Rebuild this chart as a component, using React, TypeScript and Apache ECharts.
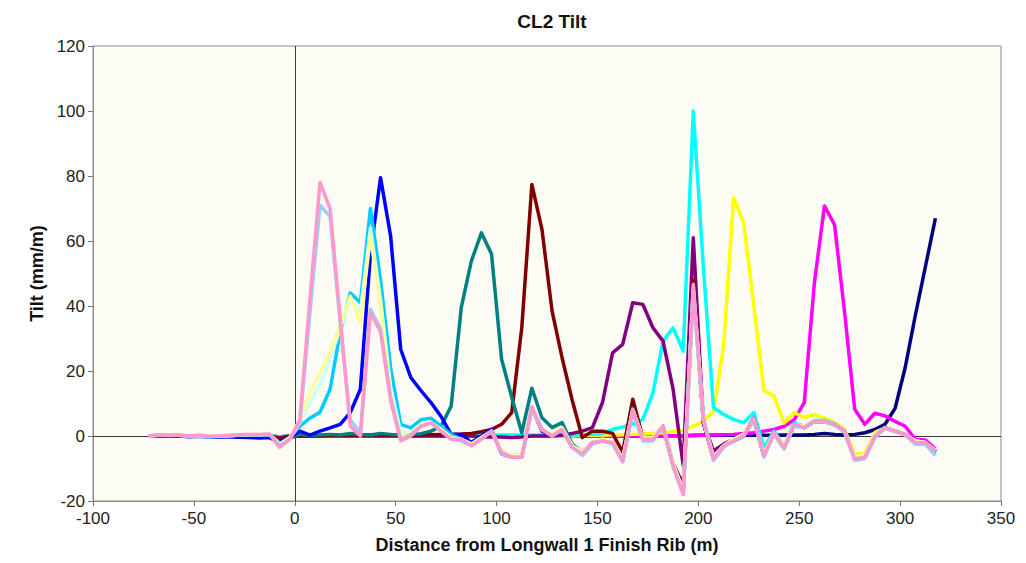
import React, { useEffect, useRef } from "react";
import * as echarts from "echarts";

const TITLE = "CL2 Tilt";
const X_NAME = "Distance from Longwall 1 Finish Rib (m)";
const Y_NAME = "Tilt (mm/m)";

const DIST = [
  -72.5, -67.5, -62.5, -57.5, -52.5, -47.5, -42.5, -37.5, -32.5, -27.5, -22.5, -17.5, -12.5, -7.5, -2.5,
  2.5, 7.5, 12.5, 17.5, 22.5, 27.5, 32.5, 37.5, 42.5, 47.5,
  52.5, 57.5, 62.5, 67.5, 72.5, 77.5, 82.5, 87.5, 92.5, 97.5,
  102.5, 107.5, 112.5, 117.5, 122.5, 127.5, 132.5, 137.5, 142.5, 147.5,
  152.5, 157.5, 162.5, 167.5, 172.5, 177.5, 182.5, 187.5, 192.5, 197.5,
  202.5, 207.5, 212.5, 217.5, 222.5, 227.5, 232.5, 237.5, 242.5, 247.5,
  252.5, 257.5, 262.5, 267.5, 272.5, 277.5, 282.5, 287.5, 292.5, 297.5,
  302.5, 307.5, 312.5, 317.5,
];

const NAVY = [
  0, 0, 0, 0, 0, 0, 0, 0, 0, 0, 0, 0, 0, -0.3, 0,
  0, 0, 0, 0, 0, 0, 0, 0, 0, 0,
  0, 0, 0, 0, 0, 0, 0, 0, 0, 0,
  0, 0, 0, 0, 0, 0, 0, 0, 0, 0,
  0, 0, 0, 0, 0, 0, 0.1, 0.1, 0.1, 0.2,
  0.2, 0.2, 0.2, 0.2, 0.2, 0.2, 0.2, 0.2, 0.3, 0.3,
  0.3, 0.5, 0.8, 0.5, 0.3, 0.5, 1, 2, 3.6, 8.5,
  21, 37, 52, 67,
];

const MAGENTA = [
  0, 0, 0, 0, 0, 0, 0, 0, 0, 0, 0, 0, 0, -0.3, 0,
  0, 0, 0, 0, 0, 0, 0, 0, 0, 0,
  0, 0, 0, 0, 0, 0, 0, 0, 0, 0,
  0, 0, 0, 0, 0, 0, 0, 0, 0, 0,
  0, 0, 0, 0, 0, 0.1, 0.1, 0.1, 0.1, 0.1,
  0.2, 0.3, 0.4, 0.5, 0.8, 1, 1.5, 2, 3, 5,
  10.3, 47, 70.8, 65, 38, 8.2, 3.6, 7, 6.2, 4.5,
  3, -1, -1.2, -4,
];

const YELLOW = [
  0, 0, 0, 0, 0, 0, 0, 0, 0, 0, 0, 0, 0, -0.3, 0,
  0, 0, 0, 0, 0, 0, 0, 0, 0, 0,
  0, 0, 0, 0, 0, 0, 0, 0, 0, 0,
  0, 0, 0, 0, 0, 0, 0, 0, 0.2, 0.2,
  0.3, 0.3, 0.4, 0.5, 0.6, 0.8, 1, 1.3, 1.8, 3,
  4.5, 7.6, 27.5, 73.3, 65.6, 40, 14, 12.3, 4, 7.2,
  5.7, 6.6, 5.6, 4.1, 2, -5.6, -5.3, 1.1, 2.5, 1.5,
  0.5, -1.5, -2, -4.5,
];

const CYAN = [
  0, 0, 0, 0, 0, 0, 0, 0, 0, 0, 0, 0, 0, -0.3, 0,
  0, 0, 0, 0, 0, 0, 0, 0, 0, 0,
  0, 0, 0, 0, 0, 0.2, 0.3, 0.3, 0.3, 0.3,
  0.3, 0.3, 0.3, 0.3, 0.3, 0.3, 0.3, 0.3, 0.4, 0.5,
  0.8, 2, 2.8, 3.6, 5.1, 13.3, 29.2, 33.3, 26.1, 100,
  52, 8.7, 6.7, 5.1, 4.1, 7.2, -3.6, 1.5, -3, 4,
  3, 4.8, 4.8, 3.8, 1.5, -6.5, -6, 0.5, 2.5, 1.5,
  0.5, -2, -2.5, -5.5,
];

const PURPLE = [
  0, 0, 0, 0, 0, 0, 0, 0, 0, 0, 0, 0, 0, -0.5, 0,
  0, 0, 0, 0, 0, 0, 0, 0, 0, 0,
  0, 0, 0, 0, 0, 0, 0, 0, -0.2, -0.3,
  -0.3, -0.5, -0.3, 0, 0, 0, 0.3, 0.8, 1.5, 2.6,
  10.3, 25.6, 28.2, 41, 40.5, 33.3, 29.2, 14.4, -9, 61,
  4, -4.6, -2.5, -1, 0.5, 5, -6, 1, -3.5, 3.5,
  2.6, 4.5, 4.5, 3.5, 1.5, -7, -6.5, 0, 2.5, 1.5,
  0.5, -2, -2, -4.8,
];

const DARK_RED = [
  0, 0, 0, 0, 0, 0, 0, 0, 0, 0, 0, 0, 0, -1, -0.3,
  0, 0, 0.1, 0.2, 0.2, 0.3, 0.2, 0.3, 0.3, 0.3,
  0.3, 0.3, 0.4, 0.4, 0.5, 0.5, 0.6, 0.8, 1.3, 2,
  3.6, 7.2, 33.3, 77.4, 63.6, 38.5, 24, 11, -0.5, 1.5,
  1.5, 0.8, -5, 11.3, -0.5, -0.5, 3, -8.5, -15, 48,
  4, -7, -3, -1.5, 0, 5.5, -6, 1, -3.5, 3.5,
  2.6, 4.5, 4.5, 3.5, 1.5, -7, -6.5, 0, 2.5, 1.5,
  0.5, -2, -2, -4.8,
];

const TEAL = [
  0, 0.1, 0, 0.1, -0.1, 0, -0.1, 0, 0, 0.1, 0.2, 0.2, 0.3, -2, -0.5,
  0.5, 0.2, 0.3, 0.5, 0.3, 0.8, 0.5, 0.3, 0.8, 0.5,
  0.3, 0.5, 0.7, 1.5, 3, 9.2, 39.5, 53.8, 62.5, 56,
  23.6, 12, 1, 14.7, 5.6, 2.6, 4.1, -2.5, -5, -2,
  -1.5, -2, -7.5, 8.5, -1, -1, 3, -9, -16, 45,
  5, -7, -3, -1.5, 0, 5.5, -6, 1, -3.5, 3.5,
  2.6, 4.5, 4.5, 3.5, 1.5, -7, -6.5, 0, 2.5, 1.5,
  0.5, -2, -2, -4.8,
];

const BLUE = [
  0, 0.1, 0, 0, -0.2, -0.1, -0.3, -0.2, -0.3, -0.4, -0.5, -0.6, -0.5, -2, -0.5,
  1.5, 0.3, 1.5, 2.5, 3.6, 7.2, 14.4, 56, 79.5, 61.5,
  26.7, 18, 14, 10.3, 6, 0.5, 0.5, -2, 0, 2,
  -5.5, -6.5, -6.5, 8.5, 1.5, 0, 2, -3.5, -5.5, -2,
  -1.5, -2, -7.5, 8, -1, -1, 3, -9, -17.5, 46,
  5, -7, -3, -1.5, 0, 5.5, -6, 1, -3.5, 3.5,
  2.6, 4.5, 4.5, 3.5, 1.5, -7, -6.5, 0, 2.5, 1.5,
  0.5, -2, -2, -4.8,
];

const SKY_BLUE = [
  0, 0.2, 0.1, 0.2, -0.1, 0.1, -0.2, -0.1, 0, 0.2, 0.3, 0.3, 0.4, -2.5, -0.5,
  3, 5.5, 7.3, 14.4, 32, 44, 41, 70, 48, 21,
  3.6, 2.5, 5, 5.5, 3, 0.5, -1, -2.5, -0.5, 1.5,
  -5, -6, -6, 8.5, 2, 0, 2, -3, -5.5, -2,
  -1.5, -2, -7.5, 8, -1, -1, 3, -9, -17, 46,
  5, -7, -3, -1.5, 0, 5.5, -6, 1, -3.5, 3.5,
  2.6, 4.5, 4.5, 3.5, 1.5, -7, -6.5, 0, 2.5, 1.5,
  0.5, -2, -2, -5,
];

const LIGHT_TURQUOISE = [
  0, 0.2, 0.2, 0.2, 0, 0.1, 0, 0, 0.1, 0.3, 0.4, 0.4, 0.5, -2.5, -0.5,
  4, 10, 16, 24, 33, 42, 38, 64, 42, 15,
  1, 1, 3.5, 4, 2, -0.5, -1, -2.5, -0.5, 1.5,
  -4.5, -6, -6, 8.5, 2, 0.5, 2.5, -3, -5, -2,
  -1, -2, -7, 8, -0.5, -0.5, 3, -8.5, -17, 45,
  5, -6.5, -3, -1, 0.5, 5, -5.5, 1, -3, 3.5,
  3, 4.5, 4.5, 3.5, 1.5, -6.5, -6, 0.5, 2.5, 1.5,
  0.5, -1.5, -2, -4.5,
];

const LIGHT_YELLOW = [
  0, 0.3, 0.2, 0.3, 0, 0.2, 0, 0, 0.2, 0.3, 0.4, 0.5, 0.5, -2.5, -0.5,
  5, 13, 19.5, 26, 34, 43, 35, 61.5, 40, 13,
  0, 1, 3.5, 4, 2, -0.5, -1, -2.5, -0.5, 1.5,
  -4.5, -6, -6, 8.5, 2, 0.5, 2.5, -3, -5, -2,
  -1, -2, -7, 8, -0.5, -0.5, 3, -8.5, -17, 45,
  5, -6.5, -3, -1, 0.5, 5, -5.5, 1, -3, 3.5,
  3, 4.5, 4.5, 3.5, 1.5, -6.5, -6, 0.5, 2.5, 1.5,
  0.5, -1.5, -2, -4.5,
];

const PALE_BLUE = [
  0, 0.3, 0.2, 0.2, 0, 0.1, -0.2, 0, 0.1, 0.3, 0.4, 0.4, 0.5, -3, -1,
  4, 38, 71, 67.5, 35, 5, 1, 39, 33, 12,
  -1, 0.5, 3, 4, 1.5, -1, -1.5, -3, -1, 1.5,
  -5.5, -6.5, -6.5, 8.5, 2, 0, 2, -3.5, -6, -2.5,
  -1.5, -2.5, -8, 7.5, -1.5, -1.5, 3, -9.5, -18, 45,
  5, -7.5, -3.5, -1.5, 0, 5, -6.5, 0.5, -4, 3,
  2.5, 4.5, 4.5, 3.5, 1, -7.5, -7, -0.5, 2.5, 1.5,
  0.3, -2.5, -2.5, -6,
];

const ROSE = [
  0, 0.4, 0.2, 0.3, 0, 0.2, -0.1, 0, 0.2, 0.4, 0.5, 0.5, 0.6, -3.5, -1,
  5, 42, 78, 70, 36, 3, 0, 38, 32, 11,
  -1.5, 0, 3, 4, 1.5, -1, -1, -3, -1, 1.5,
  -5, -6.5, -6.5, 9, 2, 0, 2, -3.5, -5.5, -2,
  -1.5, -2, -7.7, 8.2, -1, -1, 3, -9.2, -18, 46.7,
  5, -7, -3, -1.5, 0, 5.5, -6, 1, -3.6, 3.6,
  2.6, 4.6, 4.6, 3.6, 1.5, -7, -6.5, 0, 2.6, 1.5,
  0.5, -2, -2, -4.6,
];

const SERIES_DEFS: [string, number[], string][] = [
  ["Navy", NAVY, "#000080"],
  ["Magenta", MAGENTA, "#FF00FF"],
  ["Yellow", YELLOW, "#FFFF00"],
  ["Cyan", CYAN, "#00FFFF"],
  ["Purple", PURPLE, "#800080"],
  ["Dark red", DARK_RED, "#800000"],
  ["Teal", TEAL, "#008080"],
  ["Blue", BLUE, "#0000FF"],
  ["Sky blue", SKY_BLUE, "#00CCFF"],
  ["Light turquoise", LIGHT_TURQUOISE, "#CCFFFF"],
  ["Light yellow", LIGHT_YELLOW, "#FFFF99"],
  ["Pale blue", PALE_BLUE, "#99CCFF"],
  ["Rose", ROSE, "#FF99CC"],
];

const FONT = "'Liberation Sans', Arial, Helvetica, sans-serif";

export default function App() {
  const ref = useRef<HTMLDivElement>(null);

  useEffect(() => {
    if (!ref.current) return;
    const chart = echarts.init(ref.current, null, { renderer: "svg" });
    const series: any[] = SERIES_DEFS.map(([name, vals, color], idx) => ({
      name,
      type: "line",
      data: DIST.map((x, i) => [x, vals[i]]),
      showSymbol: false,
      symbol: "none",
      lineStyle: { color, width: 3.5, join: "round" },
      itemStyle: { color },
      z: 3 + idx * 0.01,
      silent: true,
      ...(idx === 0
        ? {
            markLine: {
              silent: true,
              symbol: "none",
              label: { show: false },
              lineStyle: { color: "#3a3a3a", width: 1, type: "solid" },
              data: [{ xAxis: 0 }, { yAxis: 0 }],
              z: 2,
            },
          }
        : {}),
    }));

    chart.setOption({
      animation: false,
      backgroundColor: "#ffffff",
      textStyle: { fontFamily: FONT },
      title: {
        text: TITLE,
        left: 547,
        top: 7,
        textAlign: "center",
        textStyle: { fontFamily: FONT, fontSize: 19, fontWeight: "bold", color: "#111" },
      },
      grid: {
        left: 93,
        right: 25,
        top: 46,
        bottom: 62,
        show: true,
        backgroundColor: "#FCFBF4",
        borderColor: "#8C8C8C",
        borderWidth: 1,
      },
      xAxis: {
        type: "value",
        min: -100,
        max: 350,
        interval: 50,
        name: X_NAME,
        nameLocation: "middle",
        nameGap: 35,
        nameTextStyle: { fontFamily: FONT, fontSize: 18, fontWeight: "bold", color: "#111" },
        axisLine: { onZero: false, lineStyle: { color: "#8C8C8C", width: 1 } },
        axisTick: { show: true, length: 5, lineStyle: { color: "#777" } },
        axisLabel: { fontFamily: FONT, fontSize: 17, color: "#222", margin: 9 },
        splitLine: { show: false },
      },
      yAxis: {
        type: "value",
        min: -20,
        max: 120,
        interval: 20,
        name: Y_NAME,
        nameLocation: "middle",
        nameGap: 46,
        nameTextStyle: { fontFamily: FONT, fontSize: 18, fontWeight: "bold", color: "#111" },
        axisLine: { show: true, onZero: false, lineStyle: { color: "#8C8C8C", width: 1 } },
        axisTick: { show: true, length: 5, lineStyle: { color: "#777" } },
        axisLabel: { fontFamily: FONT, fontSize: 17, color: "#222", margin: 8 },
        splitLine: { show: false },
      },
      series,
    });

    return () => chart.dispose();
  }, []);

  return (
    <div
      ref={ref}
      style={{ position: "fixed", left: 0, top: 0, width: 1026, height: 563, background: "#fff" }}
    />
  );
}
